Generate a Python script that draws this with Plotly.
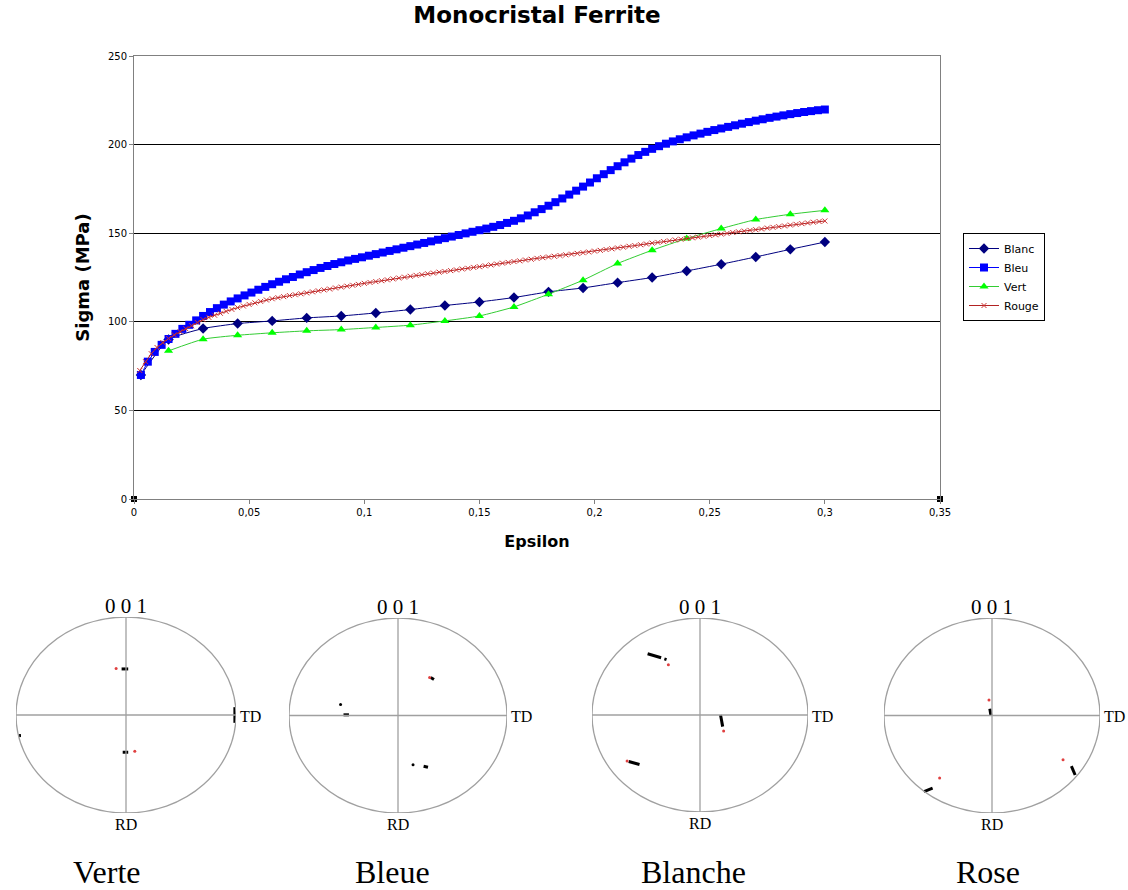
import plotly.graph_objects as go

W, H = 1128, 890

# ---------------- stress-strain data ----------------
eps_bleu = [0.003, 0.006, 0.009, 0.012, 0.015, 0.018, 0.021, 0.024, 0.027, 0.030,
            0.033, 0.036, 0.039, 0.042, 0.045, 0.048, 0.051, 0.054, 0.057, 0.060,
            0.063, 0.066, 0.069, 0.072, 0.075, 0.078, 0.081, 0.084, 0.087, 0.090,
            0.093, 0.096, 0.099, 0.102, 0.105, 0.108, 0.111, 0.114, 0.117, 0.120,
            0.123, 0.126, 0.129, 0.132, 0.135, 0.138, 0.141, 0.144, 0.147, 0.150,
            0.153, 0.156, 0.159, 0.162, 0.165, 0.168, 0.171, 0.174, 0.177, 0.180,
            0.183, 0.186, 0.189, 0.192, 0.195, 0.198, 0.201, 0.204, 0.207, 0.210,
            0.213, 0.216, 0.219, 0.222, 0.225, 0.228, 0.231, 0.234, 0.237, 0.240,
            0.243, 0.246, 0.249, 0.252, 0.255, 0.258, 0.261, 0.264, 0.267, 0.270,
            0.273, 0.276, 0.279, 0.282, 0.285, 0.288, 0.291, 0.294, 0.297, 0.300]
sig_bleu = [70.0, 77.5, 83.0, 87.0, 90.3, 93.2, 96.0, 98.3, 100.8, 103.3,
            105.5, 107.7, 109.7, 111.5, 113.2, 114.9, 116.5, 118.1, 119.7, 121.2,
            122.6, 124.0, 125.3, 126.7, 128.0, 129.2, 130.4, 131.5, 132.6, 133.6,
            134.6, 135.5, 136.4, 137.3, 138.2, 139.1, 140.0, 140.9, 141.8, 142.7,
            143.6, 144.5, 145.4, 146.3, 147.2, 148.1, 149.0, 149.9, 150.8, 151.7,
            152.6, 153.6, 154.6, 155.8, 157.0, 158.4, 160.0, 161.8, 163.6, 165.5,
            167.5, 169.6, 171.8, 174.0, 176.3, 178.6, 181.0, 183.3, 185.6, 187.8,
            190.0, 192.1, 194.1, 195.9, 197.6, 199.1, 200.5, 201.8, 203.0, 204.1,
            205.2, 206.2, 207.2, 208.2, 209.1, 210.0, 210.9, 211.8, 212.7, 213.5,
            214.3, 215.1, 215.8, 216.5, 217.2, 217.8, 218.4, 218.9, 219.4, 219.8]

eps_rouge = [0.0025, 0.005, 0.0075, 0.01, 0.0125, 0.015, 0.0175, 0.02, 0.0225, 0.025,
             0.0275, 0.03, 0.0325, 0.035, 0.0375, 0.04, 0.0425, 0.045, 0.0475, 0.05,
             0.0525, 0.055, 0.0575, 0.06, 0.0625, 0.065, 0.0675, 0.07, 0.0725, 0.075,
             0.0775, 0.08, 0.0825, 0.085, 0.0875, 0.09, 0.0925, 0.095, 0.0975, 0.1,
             0.1025, 0.105, 0.1075, 0.11, 0.1125, 0.115, 0.1175, 0.12, 0.1225, 0.125,
             0.1275, 0.13, 0.1325, 0.135, 0.1375, 0.14, 0.1425, 0.145, 0.1475, 0.15,
             0.1525, 0.155, 0.1575, 0.16, 0.1625, 0.165, 0.1675, 0.17, 0.1725, 0.175,
             0.1775, 0.18, 0.1825, 0.185, 0.1875, 0.19, 0.1925, 0.195, 0.1975, 0.2,
             0.2025, 0.205, 0.2075, 0.21, 0.2125, 0.215, 0.2175, 0.22, 0.2225, 0.225,
             0.2275, 0.23, 0.2325, 0.235, 0.2375, 0.24, 0.2425, 0.245, 0.2475, 0.25,
             0.2525, 0.255, 0.2575, 0.26, 0.2625, 0.265, 0.2675, 0.27, 0.2725, 0.275,
             0.2775, 0.28, 0.2825, 0.285, 0.2875, 0.29, 0.2925, 0.295, 0.2975, 0.3]
sig_rouge = [72.5, 77.5, 82.0, 85.5, 88.3, 90.6, 92.6, 94.4, 96.1, 97.8,
             99.6, 101.2, 102.5, 103.7, 104.8, 105.9, 107.0, 108.0, 108.9, 109.8,
             110.7, 111.5, 112.3, 113.0, 113.6, 114.2, 114.8, 115.3, 115.8, 116.3,
             116.9, 117.5, 118.0, 118.5, 119.1, 119.6, 120.1, 120.6, 121.1, 121.7,
             122.2, 122.7, 123.2, 123.7, 124.2, 124.7, 125.2, 125.7, 126.2, 126.6,
             127.1, 127.5, 128.0, 128.4, 128.9, 129.3, 129.8, 130.2, 130.7, 131.1,
             131.6, 132.1, 132.6, 133.1, 133.5, 134.0, 134.4, 134.9, 135.3, 135.8,
             136.2, 136.6, 137.0, 137.4, 137.8, 138.2, 138.6, 139.0, 139.4, 139.9,
             140.3, 140.8, 141.2, 141.7, 142.1, 142.6, 143.0, 143.5, 143.9, 144.4,
             144.8, 145.3, 145.7, 146.2, 146.6, 147.0, 147.4, 147.8, 148.2, 148.7,
             149.1, 149.5, 149.9, 150.4, 150.8, 151.2, 151.6, 152.0, 152.4, 152.9,
             153.3, 153.7, 154.1, 154.6, 155.0, 155.4, 155.8, 156.2, 156.6, 156.9]

eps_blanc = [0.003, 0.015, 0.03, 0.045, 0.06, 0.075, 0.09, 0.105, 0.12, 0.135, 0.15,
             0.165, 0.18, 0.195, 0.21, 0.225, 0.24, 0.255, 0.27, 0.285, 0.3]
sig_blanc = [70.0, 90.0, 96.2, 99.0, 100.5, 102.2, 103.3, 105.0, 106.9, 109.2, 111.2,
             113.7, 116.9, 119.1, 122.1, 125.0, 128.7, 132.5, 136.6, 140.9, 145.0]

eps_vert = [0.015, 0.03, 0.045, 0.06, 0.075, 0.09, 0.105, 0.12, 0.135, 0.15,
            0.165, 0.18, 0.195, 0.21, 0.225, 0.24, 0.255, 0.27, 0.285, 0.3]
sig_vert = [83.6, 90.2, 92.4, 93.8, 94.9, 95.6, 96.8, 98.1, 100.5, 103.3,
            108.4, 115.6, 123.5, 132.9, 140.4, 147.0, 152.6, 157.7, 160.7, 162.9]

corner_x = [0, 0.35]
corner_y = [0, 0]

x_ticks = [0, 0.05, 0.1, 0.15, 0.2, 0.25, 0.3, 0.35]
y_ticks = [0, 50, 100, 150, 200, 250]

# ---------------- pole figure data (normalised to unit circle) ----------------
pole_names = ["Verte", "Bleue", "Blanche", "Rose"]

verte_streak_x = [-0.04, 0.02, None, -0.03, 0.02, None, 0.99, 0.99, None, -0.975, -0.955]
verte_streak_y = [0.47, 0.47, None, -0.38, -0.38, None, 0.08, -0.08, None, -0.21, -0.21]
verte_red_x = [-0.09, 0.08]
verte_red_y = [0.475, -0.37]

bleue_streak_x = [0.30, 0.33, None, -0.50, -0.45, None, 0.235, 0.275]
bleue_streak_y = [0.39, 0.37, None, 0.007, 0.007, None, -0.52, -0.53]
bleue_dot_x = [-0.527, 0.138]
bleue_dot_y = [0.113, -0.504]
bleue_red_x = [0.29]
bleue_red_y = [0.39]

blanche_streak_x = [-0.485, -0.36, None, -0.33, -0.31, None, 0.19, 0.21, None, -0.66, -0.56]
blanche_streak_y = [0.631, 0.59, None, 0.578, 0.571, None, 0.0, -0.12, None, -0.48, -0.51]
blanche_red_x = [-0.293, 0.219, -0.675]
blanche_red_y = [0.517, -0.166, -0.475]

rose_streak_x = [-0.02, -0.01, None, 0.735, 0.77, None, -0.63, -0.55]
rose_streak_y = [0.07, 0.0, None, -0.52, -0.61, None, -0.78, -0.745]
rose_red_x = [-0.028, 0.658, -0.485]
rose_red_y = [0.158, -0.453, -0.64]

pole_streaks = [(verte_streak_x, verte_streak_y), (bleue_streak_x, bleue_streak_y),
                (blanche_streak_x, blanche_streak_y), (rose_streak_x, rose_streak_y)]
pole_dots = [([], []), (bleue_dot_x, bleue_dot_y), ([], []), ([], [])]
pole_reds = [(verte_red_x, verte_red_y), (bleue_red_x, bleue_red_y),
             (blanche_red_x, blanche_red_y), (rose_red_x, rose_red_y)]

# pixel boxes of the pole circles (left, top, right, bottom) - layout only
pole_boxes = [(16, 617, 236, 813), (289, 618, 507, 813), (592, 618, 808, 812), (884, 618, 1100, 813)]
name_centers = [107, 392, 693, 988]


def px(x):
    return x / W


def py(y):
    return 1 - y / H


fig = go.Figure()

fig.add_trace(go.Scatter(
    x=eps_blanc, y=sig_blanc, name="Blanc", mode="lines+markers",
    line=dict(color="#000080", width=1, shape="spline", smoothing=0.5),
    marker=dict(symbol="diamond", size=8, color="#000080"),
))
fig.add_trace(go.Scatter(
    x=eps_bleu, y=sig_bleu, name="Bleu", mode="lines+markers",
    line=dict(color="#0000FF", width=1),
    marker=dict(symbol="square", size=8, color="#0000FF"),
))
fig.add_trace(go.Scatter(
    x=eps_vert, y=sig_vert, name="Vert", mode="lines+markers",
    line=dict(color="#33CC33", width=1, shape="spline", smoothing=0.5),
    marker=dict(symbol="triangle-up", size=8, color="#00FF00"),
))
fig.add_trace(go.Scatter(
    x=eps_rouge, y=sig_rouge, name="Rouge", mode="lines+markers",
    line=dict(color="#B22222", width=1),
    marker=dict(symbol="x-thin", size=5, line=dict(width=1, color="#CC3333")),
))
fig.add_trace(go.Scatter(
    x=corner_x, y=corner_y, mode="markers", showlegend=False, cliponaxis=False,
    marker=dict(symbol="square", size=6, color="black"),
    hoverinfo="skip",
))

layout_axes = {}
shapes = []
annotations = []

for i, name in enumerate(pole_names):
    k = i + 2
    l, t, r, b = pole_boxes[i]
    xa, ya = f"x{k}", f"y{k}"
    layout_axes[f"xaxis{k}"] = dict(domain=[px(l), px(r)], range=[-1, 1], visible=False,
                                    anchor=ya, fixedrange=True, automargin=False)
    layout_axes[f"yaxis{k}"] = dict(domain=[py(b), py(t)], range=[-1, 1], visible=False,
                                    anchor=xa, fixedrange=True, automargin=False)
    gray = "#A0A0A0"
    shapes.append(dict(type="circle", xref=xa, yref=ya, x0=-1, x1=1, y0=-1, y1=1,
                       line=dict(color=gray, width=1.3)))
    shapes.append(dict(type="line", xref=xa, yref=ya, x0=-1, x1=1, y0=0, y1=0,
                       line=dict(color=gray, width=1.3)))
    shapes.append(dict(type="line", xref=xa, yref=ya, x0=0, x1=0, y0=-1, y1=1,
                       line=dict(color=gray, width=1.3)))
    sx, sy = pole_streaks[i]
    fig.add_trace(go.Scatter(x=sx, y=sy, xaxis=xa, yaxis=ya, mode="lines",
                             line=dict(color="black", width=3), showlegend=False,
                             hoverinfo="skip", cliponaxis=False))
    dx, dy = pole_dots[i]
    if dx:
        fig.add_trace(go.Scatter(x=dx, y=dy, xaxis=xa, yaxis=ya, mode="markers",
                                 marker=dict(color="black", size=3), showlegend=False,
                                 hoverinfo="skip", cliponaxis=False))
    rx, ry = pole_reds[i]
    fig.add_trace(go.Scatter(x=rx, y=ry, xaxis=xa, yaxis=ya, mode="markers",
                             marker=dict(color="#E04040", size=3), showlegend=False,
                             hoverinfo="skip", cliponaxis=False))
    cx = (l + r) / 2
    cy = (t + b) / 2
    serif = "Liberation Serif, Times New Roman, serif"
    annotations.append(dict(text="0 0 1", x=px(cx), y=py(t - 11), xref="paper", yref="paper",
                            showarrow=False, xanchor="center", yanchor="middle",
                            font=dict(family=serif, size=21, color="black")))
    annotations.append(dict(text="TD", x=px(r + 2), y=py(cy + 1), xref="paper", yref="paper",
                            showarrow=False, xanchor="left", yanchor="middle",
                            font=dict(family=serif, size=16, color="black")))
    annotations.append(dict(text="RD", x=px(cx), y=py(b + 11), xref="paper", yref="paper",
                            showarrow=False, xanchor="center", yanchor="middle",
                            font=dict(family=serif, size=16, color="black")))
    annotations.append(dict(text=name, x=px(name_centers[i]), y=py(872), xref="paper", yref="paper",
                            showarrow=False, xanchor="center", yanchor="middle",
                            font=dict(family=serif, size=32, color="black")))

sans = "DejaVu Sans, Arial, sans-serif"
fig.update_layout(
    width=W, height=H, autosize=False,
    margin=dict(l=0, r=0, t=0, b=0, pad=0, autoexpand=False),
    paper_bgcolor="white", plot_bgcolor="white",
    separators=", ",
    title=dict(text="<b>Monocristal Ferrite</b>", x=537 / W, xanchor="center",
               y=py(15), yanchor="middle", font=dict(family=sans, size=23, color="black")),
    xaxis=dict(domain=[px(134), px(940)], range=[0, 0.35], tickvals=x_ticks,
               showgrid=False, zeroline=False, showline=True, linecolor="#808080",
               linewidth=1, mirror=True, ticks="outside", ticklen=4, tickcolor="#808080",
               tickfont=dict(family=sans, size=10, color="black"),
               title=dict(text="<b>Epsilon</b>", font=dict(family=sans, size=16, color="black"),
                          standoff=18),
               anchor="y", fixedrange=True, automargin=False),
    yaxis=dict(domain=[py(499), py(56)], range=[0, 250], tickvals=y_ticks,
               showgrid=True, gridcolor="black", gridwidth=1, zeroline=False,
               showline=True, linecolor="#808080", linewidth=1, mirror=True,
               ticks="outside", ticklen=4, tickcolor="#808080",
               tickfont=dict(family=sans, size=10, color="black"),
               title=dict(text="<b>Sigma (MPa)</b>", font=dict(family=sans, size=18, color="black"),
                          standoff=13),
               anchor="x", fixedrange=True, automargin=False),
    legend=dict(x=px(963), y=py(233), xanchor="left", yanchor="top",
                bgcolor="white", bordercolor="black", borderwidth=1,
                font=dict(family=sans, size=11, color="black"),
                itemwidth=30, tracegroupgap=0),
    shapes=shapes,
    annotations=annotations,
    showlegend=True,
    **layout_axes,
)

fig.write_html("out.html", config={"displayModeBar": False},
               post_script="document.body.style.margin='0px';")
